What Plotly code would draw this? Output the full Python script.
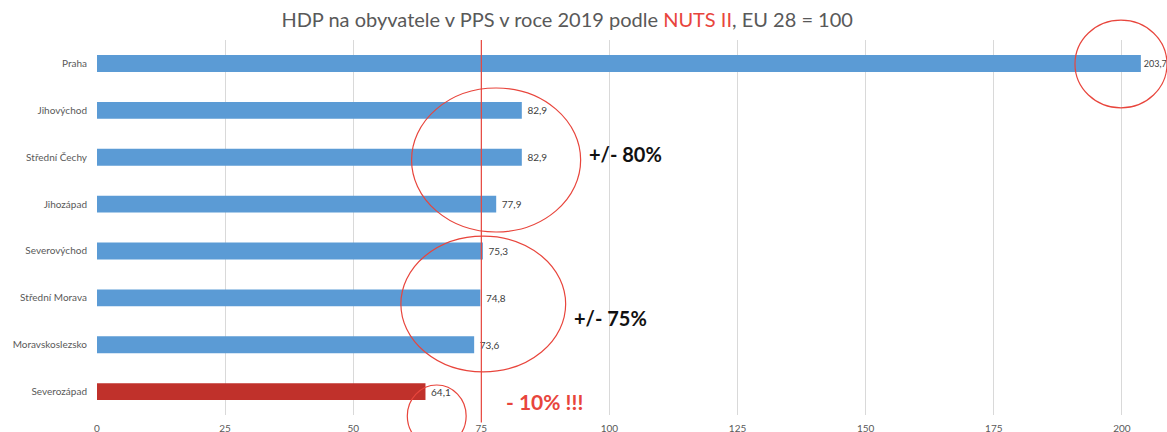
import plotly.graph_objects as go

regions = ["Praha", "Jihovýchod", "Střední Čechy", "Jihozápad", "Severovýchod",
           "Střední Morava", "Moravskoslezsko", "Severozápad"]
values = [203.7, 82.9, 82.9, 77.9, 75.3, 74.8, 73.6, 64.1]
labels = ["203,7", "82,9", "82,9", "77,9", "75,3", "74,8", "73,6", "64,1"]
bar_colors = ["#5b9bd5"] * 7 + ["#c0312b"]
x_ticks = [0, 25, 50, 75, 100, 125, 150, 175, 200]
eu_threshold = 75

FONT = "Lato, 'Open Sans', sans-serif"
RED = "#e8453c"

# small gap between bar end and label (none for the longest bar, which touches the edge)
longest = max(values)
bar_text = [t if v == longest else "\u00a0" + t for t, v in zip(labels, values)]
text_sizes = [9 if v == longest else 10 for v in values]

fig = go.Figure(go.Bar(
    y=regions, x=values, orientation="h",
    marker=dict(color=bar_colors, line=dict(width=0)),
    width=0.36,
    text=bar_text, textposition="outside", cliponaxis=False,
    constraintext="none",
    textfont=dict(size=text_sizes, color="#404040", family=FONT),
    hoverinfo="skip",
))

# threshold line
fig.add_shape(type="line", xref="x", yref="paper", x0=eu_threshold, x1=eu_threshold,
              y0=-0.02, y1=1.0, line=dict(color=RED, width=1.2))

# hand-drawn highlight circles
circles = [
    (0.914, 0.819, 1.0, 1.053),
    (0.294, 0.488, 0.452, 0.872),
    (0.284, 0.115, 0.438, 0.477),
    (0.290, -0.085, 0.345, 0.08),
]
for x0, y0, x1, y1 in circles:
    fig.add_shape(type="circle", xref="paper", yref="paper", x0=x0, y0=y0, x1=x1, y1=y1,
                  line=dict(color=RED, width=1.2))

notes = [
    ("+/- 80%", 0.458, 0.695, "#111111", 20),
    ("+/- 75%", 0.444, 0.26, "#111111", 20),
    ("- 10% !!!", 0.380, 0.036, RED, 21),
]
for txt, x, y, col, size in notes:
    fig.add_annotation(text=f"<b>{txt}</b>", xref="paper", yref="paper", x=x, y=y,
                       xanchor="left", yanchor="middle", showarrow=False,
                       font=dict(size=size, color=col, family=FONT))

fig.update_layout(
    width=1167, height=432,
    margin=dict(l=97, r=0, t=40, b=17),
    plot_bgcolor="white", paper_bgcolor="white",
    showlegend=False,
    title=dict(
        text=f"HDP na obyvatele v PPS v roce 2019 podle <span style='color:{RED}'>NUTS II</span>, EU 28 = 100",
        xref="container", yref="container", x=0.486, y=0.953,
        xanchor="center", yanchor="middle",
        font=dict(size=20, color="#595959", family=FONT),
    ),
    xaxis=dict(range=[0, 208.8], tickvals=x_ticks, showgrid=True, gridcolor="#d9d9d9",
               gridwidth=1, zeroline=False, showline=False, ticks="", automargin=False,
               ticklabelstandoff=6,
               tickfont=dict(size=10, color="#595959", family=FONT)),
    yaxis=dict(type="category", autorange="reversed", showgrid=False, showline=False,
               ticks="", ticklabelstandoff=9, automargin=False,
               tickfont=dict(size=10, color="#595959", family=FONT)),
)

fig.write_html("out.html", config={"displayModeBar": False},
               post_script="document.body.style.margin='0';document.body.style.overflow='hidden';")
